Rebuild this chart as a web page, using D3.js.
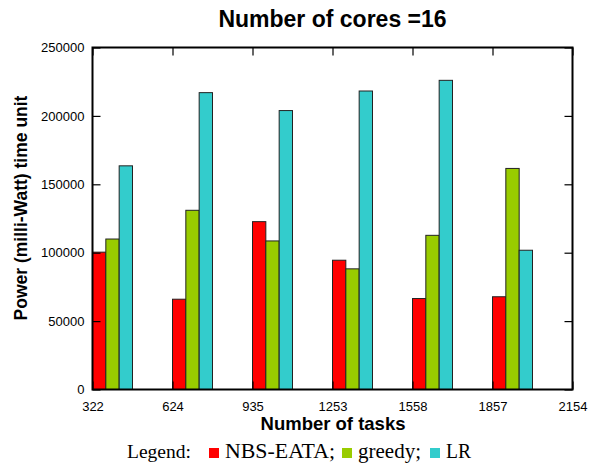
<!DOCTYPE html>
<html>
<head>
<meta charset="utf-8">
<script src="https://cdn.jsdelivr.net/npm/d3@7"></script>
<style>
body { margin: 0; background: #fff; }
</style>
</head>
<body>
<div id="chart"></div>
<script>
// tick labels along x (last one has no bars)
var tasks = ["322", "624", "935", "1253", "1558", "1857", "2154"];
var seriesNames = ["NBS-EATA", "greedy", "LR"];
var colors = ["#ff0000", "#99cc00", "#33cccc"];

var nbs = [100400, 66000, 122700, 94500, 66500, 67800];
var greedy = [110000, 131000, 108600, 88200, 112700, 161600];
var lr = [163500, 217000, 203900, 218200, 226000, 101800];
var yTicks = [0, 50000, 100000, 150000, 200000, 250000];

var width = 595, height = 463;
var mLeft = 92.5, mRight = 572.5, mTop = 47.5, mBottom = 389.5;

var svg = d3.select("#chart").append("svg")
    .attr("width", width).attr("height", height)
    .attr("font-family", "Liberation Sans, Arial, sans-serif");

var x = d3.scalePoint().domain(tasks).range([mLeft, mRight]);
var step = x.step();
var inner = d3.scaleBand().domain(seriesNames).range([0, step / 2]);
var y = d3.scaleLinear().domain([0, 250000]).range([mBottom, mTop]);

var groups = [nbs, greedy, lr];
var rows = [];
groups.forEach(function(vals, j) {
    vals.forEach(function(v, i) {
        rows.push({task: tasks[i], series: seriesNames[j], value: v, color: colors[j]});
    });
});

svg.append("g").selectAll("rect").data(rows).enter().append("rect")
    .attr("x", function(d) { return x(d.task) + inner(d.series); })
    .attr("y", function(d) { return y(d.value); })
    .attr("width", inner.bandwidth())
    .attr("height", function(d) { return mBottom - y(d.value); })
    .attr("fill", function(d) { return d.color; })
    .attr("stroke", "#222")
    .attr("stroke-width", 1);

// axes, ticks inward, mirrored
var yAxis = d3.axisLeft(y).tickValues(yTicks).tickSize(-8).tickPadding(8).tickFormat(d3.format("d"));
var yAxisR = d3.axisRight(y).tickValues(yTicks).tickSize(-8).tickFormat("");
var xAxis = d3.axisBottom(x).tickSize(-8).tickPadding(12);
var xAxisT = d3.axisTop(x).tickSize(-8).tickFormat("");

svg.append("g").attr("transform", "translate(" + mLeft + ",0)").call(yAxis);
svg.append("g").attr("transform", "translate(" + mRight + ",0)").call(yAxisR);
svg.append("g").attr("transform", "translate(0," + mBottom + ")").call(xAxis);
svg.append("g").attr("transform", "translate(0," + mTop + ")").call(xAxisT);

svg.selectAll(".domain").remove();
svg.selectAll(".tick line").attr("stroke", "#000").attr("stroke-width", 1.2);
svg.selectAll(".tick text").attr("font-size", 13).attr("fill", "#000")
    .attr("font-family", "Liberation Sans, Arial, sans-serif");

svg.append("rect").attr("x", mLeft).attr("y", mTop)
    .attr("width", mRight - mLeft).attr("height", mBottom - mTop)
    .attr("fill", "none").attr("stroke", "#000").attr("stroke-width", 2);

svg.append("text").attr("x", 332.5).attr("y", 27).attr("text-anchor", "middle")
    .attr("font-size", 23).attr("font-weight", "bold").text("Number of cores =16");

svg.append("text").attr("x", 333).attr("y", 430).attr("text-anchor", "middle")
    .attr("font-size", 18.5).attr("font-weight", "bold").text("Number of tasks");

svg.append("text").attr("transform", "translate(26.5,208) rotate(-90)").attr("text-anchor", "middle")
    .attr("font-size", 17.5).attr("font-weight", "bold").text("Power (milli-Watt) time unit");

// legend
var serif = "Liberation Serif, Times New Roman, serif";
svg.append("text").attr("x", 127).attr("y", 458).attr("font-size", 19.5)
    .attr("font-family", serif).text("Legend:");
var lx = [209, 342, 430];
var labels = ["NBS-EATA;", "greedy;", "LR"];
var lw = [110, 63, 25];
seriesNames.forEach(function(s, j) {
    svg.append("rect").attr("x", lx[j]).attr("y", 448).attr("width", 10).attr("height", 10)
        .attr("fill", colors[j]);
    svg.append("text").attr("x", lx[j] + 16).attr("y", 458).attr("font-size", 20.5)
        .attr("textLength", lw[j]).attr("lengthAdjust", "spacingAndGlyphs")
        .attr("font-family", serif).text(labels[j]);
});
</script>
</body>
</html>
